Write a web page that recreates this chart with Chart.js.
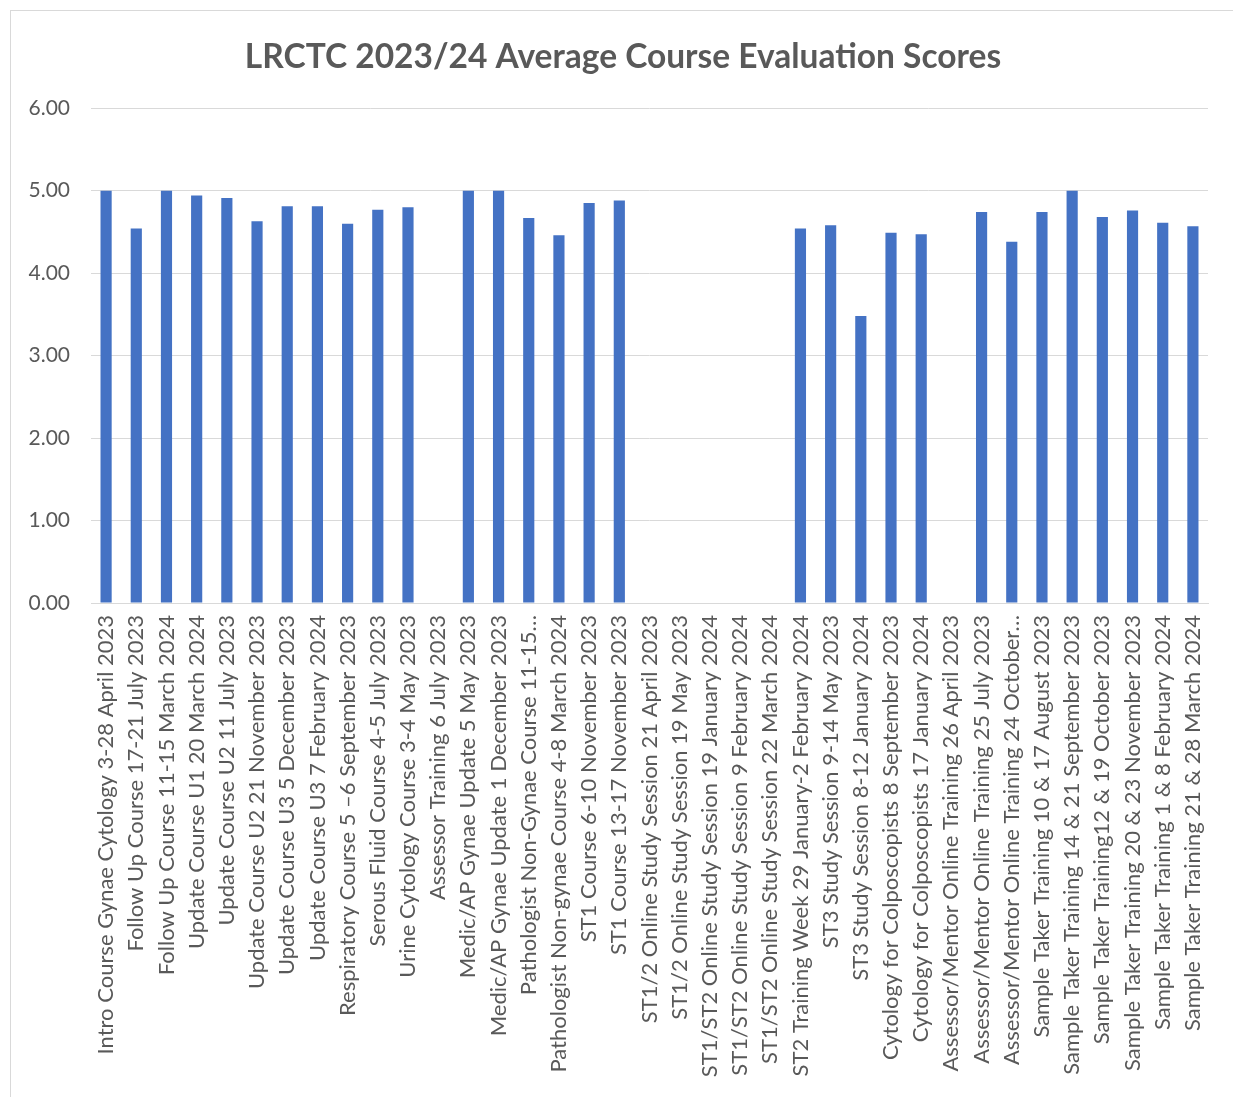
<!DOCTYPE html>
<html>
<head>
<meta charset="utf-8">
<script src="https://cdn.jsdelivr.net/npm/chart.js@4"></script>
<style>
  html, body { margin: 0; padding: 0; background: #fff; }
  #wrap { position: relative; width: 1233px; height: 1097px; }
  #frame { position: absolute; left: 10px; top: 10px; width: 1240px; height: 1100px; border: 1px solid #d9d9d9; box-sizing: border-box; }
  canvas { position: absolute; left: 0; top: 0; }
</style>
</head>
<body>
<div id="wrap">
  <div id="frame"></div>
  <canvas id="c" width="1233" height="1097"></canvas>
</div>
<script>
const chartTitle = "LRCTC 2023/24 Average Course Evaluation Scores";

const categories = [
  "Intro Course Gynae Cytology 3-28 April 2023",
  "Follow Up Course 17-21 July 2023",
  "Follow Up Course 11-15 March 2024",
  "Update Course U1 20 March 2024",
  "Update Course U2 11 July 2023",
  "Update Course U2 21 November 2023",
  "Update Course U3 5 December 2023",
  "Update Course U3 7 February 2024",
  "Respiratory Course 5 \u20136 September 2023",
  "Serous Fluid Course 4-5 July 2023",
  "Urine Cytology Course 3-4 May 2023",
  "Assessor Training 6 July 2023",
  "Medic/AP Gynae Update 5 May 2023",
  "Medic/AP Gynae Update 1 December 2023",
  "Pathologist Non-Gynae Course 11-15\u2026",
  "Pathologist Non-gynae Course 4-8 March 2024",
  "ST1 Course 6-10 November 2023",
  "ST1 Course 13-17 November 2023",
  "ST1/2 Online Study Session 21 April 2023",
  "ST1/2 Online Study Session 19 May 2023",
  "ST1/ST2 Online Study Session 19 January 2024",
  "ST1/ST2 Online Study Session 9 February 2024",
  "ST1/ST2 Online Study Session 22 March 2024",
  "ST2 Training Week 29 January-2 February 2024",
  "ST3 Study Session 9-14 May 2023",
  "ST3 Study Session 8-12 January 2024",
  "Cytology for Colposcopists 8 September 2023",
  "Cytology for Colposcopists 17 January 2024",
  "Assessor/Mentor Online Training 26 April 2023",
  "Assessor/Mentor Online Training 25 July 2023",
  "Assessor/Mentor Online Training 24 October\u2026",
  "Sample Taker Training 10 & 17 August 2023",
  "Sample Taker Training 14 & 21 September 2023",
  "Sample Taker Training12 & 19 October 2023",
  "Sample Taker Training 20 & 23 November 2023",
  "Sample Taker Training 1 & 8 February 2024",
  "Sample Taker Training 21 & 28 March 2024"
];

const scores = [
  5.00, 4.54, 5.00, 4.94, 4.91, 4.63, 4.81, 4.81, 4.60, 4.77, 4.80, null,
  5.00, 5.00, 4.67, 4.46, 4.85, 4.88, null, null, null, null, null,
  4.54, 4.58, 3.48, 4.49, 4.47, null, 4.74, 4.38, 4.74, 5.00, 4.68, 4.76, 4.61, 4.57
];

const yTicks = [0, 1, 2, 3, 4, 5, 6];

const txt = '#595959';

const shiftTitle = {
  id: 'shiftTitle',
  afterLayout(chart) {
    if (chart.titleBlock) chart.titleBlock.left = 38;
  }
};

new Chart(document.getElementById('c'), {
  type: 'bar',
  data: {
    labels: categories,
    datasets: [{
      label: 'Score',
      data: scores,
      backgroundColor: '#4472C4',
      borderWidth: 0,
      categoryPercentage: 1.0,
      barPercentage: 0.37
    }]
  },
  plugins: [shiftTitle],
  options: {
    responsive: false,
    animation: false,
    layout: { padding: { left: 0, right: 25, top: 0, bottom: 0 } },
    plugins: {
      legend: { display: false },
      tooltip: { enabled: false },
      title: {
        display: true,
        text: chartTitle,
        color: txt,
        font: { family: 'Lato', size: 33.5, weight: 'bold' },
        padding: { top: 37, bottom: 31 }
      }
    },
    scales: {
      x: {
        grid: { display: false, drawTicks: false },
        border: { display: true, color: '#d9d9d9', width: 1 },
        ticks: {
          autoSkip: false,
          maxRotation: 90,
          minRotation: 90,
          padding: 12,
          color: txt,
          font: { family: 'Lato', size: 22 }
        },
        afterFit(scale) { scale.height = 494; }
      },
      y: {
        min: 0,
        max: 6,
        afterBuildTicks(scale) { scale.ticks = yTicks.map(v => ({ value: v })); },
        grid: { color: '#d9d9d9', lineWidth: 1, drawTicks: false },
        border: { display: false },
        ticks: {
          padding: 21,
          color: txt,
          font: { family: 'Lato', size: 21 },
          callback: v => Number(v).toFixed(2)
        },
        afterFit(scale) { scale.width = 91; }
      }
    }
  }
});
</script>
</body>
</html>
